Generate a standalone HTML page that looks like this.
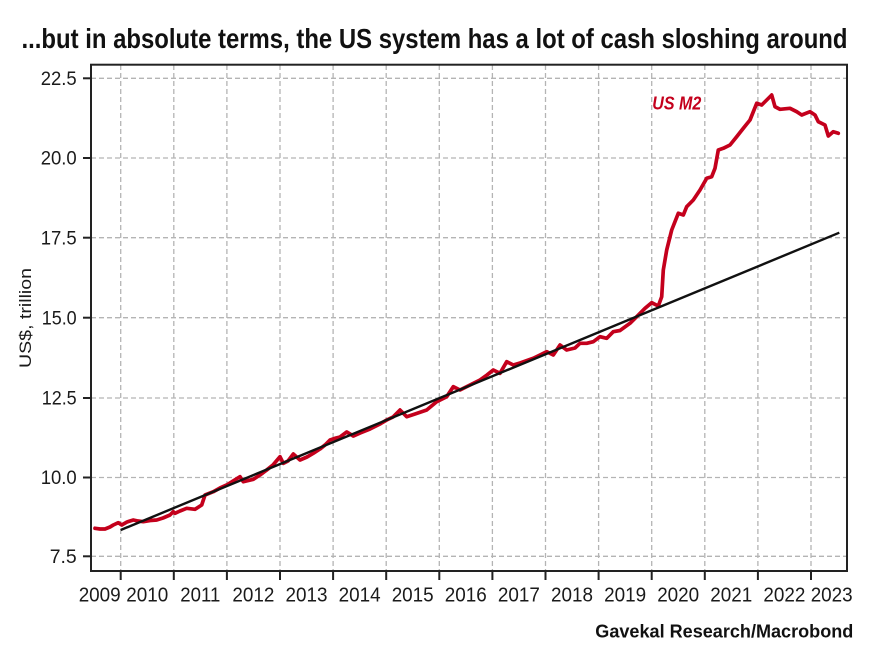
<!DOCTYPE html>
<html><head><meta charset="utf-8"><style>
html,body{margin:0;padding:0;background:#fff;}
svg{display:block;}
text{font-family:"Liberation Sans",sans-serif;}
</style></head><body>
<svg width="886" height="655" viewBox="0 0 886 655" xmlns="http://www.w3.org/2000/svg">
<rect x="0" y="0" width="886" height="655" fill="#fff"/>
<text x="21.5" y="48" font-size="28" font-weight="bold" fill="#111" textLength="826" lengthAdjust="spacingAndGlyphs">...but in absolute terms, the US system has a lot of cash sloshing around</text>

<!-- grid -->
<g stroke="#b4b4b4" stroke-width="1.3" stroke-dasharray="5,3" fill="none">
<line x1="91" y1="78.3" x2="847" y2="78.3"/>
<line x1="91" y1="158" x2="847" y2="158"/>
<line x1="91" y1="237.7" x2="847" y2="237.7"/>
<line x1="91" y1="317.7" x2="847" y2="317.7"/>
<line x1="91" y1="398" x2="847" y2="398"/>
<line x1="91" y1="477.5" x2="847" y2="477.5"/>
<line x1="91" y1="556.3" x2="847" y2="556.3"/>
<line x1="120.7" y1="65" x2="120.7" y2="571"/>
<line x1="173.8" y1="65" x2="173.8" y2="571"/>
<line x1="226.9" y1="65" x2="226.9" y2="571"/>
<line x1="280" y1="65" x2="280" y2="571"/>
<line x1="333.1" y1="65" x2="333.1" y2="571"/>
<line x1="386.2" y1="65" x2="386.2" y2="571"/>
<line x1="439.3" y1="65" x2="439.3" y2="571"/>
<line x1="492.4" y1="65" x2="492.4" y2="571"/>
<line x1="545.5" y1="65" x2="545.5" y2="571"/>
<line x1="598.6" y1="65" x2="598.6" y2="571"/>
<line x1="651.7" y1="65" x2="651.7" y2="571"/>
<line x1="704.8" y1="65" x2="704.8" y2="571"/>
<line x1="757.9" y1="65" x2="757.9" y2="571"/>
<line x1="811" y1="65" x2="811" y2="571"/>
</g>

<!-- US M2 -->
<polyline fill="none" stroke="#c4001c" stroke-width="3.7" stroke-linejoin="round" stroke-linecap="round" points="
95,528.3 100,529 105,529 110,527 113.3,525 118.3,522.7 121.7,525 127,522 133.3,520 138,521 143.3,521.7 150,520.5 156.7,520 163,518 170,515 173.3,511.7 175,513.3 180,511 186.7,508.3 195,509.3 201.7,505 205,495 213.3,491.7 220,488 226.7,485 233,481 240,476.7 243.3,481.7 253.3,479.3 260,475 266.7,470 273,465 280,456.7 283.3,463.3 288,461 293.3,454 300,460 307,457 313.3,453.3 320,449 325,445 330,440 336,438 340,437 346.7,432 353.3,436 360,433 370,429 380,424 386.7,420 393,417 400,410 406.7,416.7 415,414 426.7,410 436.7,401.7 446.7,396.7 453.3,386.7 460,390 470,385 480,380 487,375 493.3,370 500,373.3 506.7,361.7 513.3,365 520,363 533.3,358.3 540,355 546.7,351.7 553.3,355 560,345 566.7,350 575,348 580,343.3 586.7,343.3 593.3,341.7 600,336.7 606.7,338.3 613.3,331.7 620,330.5 630,323.3 636.7,316.7 645,308.3 651.7,302.7 658.3,306 661.7,296.7 663.3,270 666.7,250 671.7,230 678.3,213.3 683.3,215 686.7,206.7 693.3,200 700,190 706.7,178.3 711.7,176.7 715,168.3 718.3,150 723.3,148.3 730,145 736.7,136.7 743.3,128.3 750,120 756.7,103.3 761.7,105 766.7,100 771.7,95 775,106.7 780,109.3 790,108.3 796.7,111.7 801.7,115 810,111.7 815,115 818.3,121.7 825,125 828.3,136 833.3,131.7 838.3,133.3"/>

<!-- trend -->
<line x1="120.7" y1="530" x2="839.3" y2="232.7" stroke="#111" stroke-width="2.4"/>

<!-- frame -->
<rect x="91" y="64.7" width="756" height="506.3" fill="none" stroke="#222" stroke-width="2"/>

<!-- y ticks -->
<g stroke="#222" stroke-width="2">
<line x1="83" y1="78.3" x2="91" y2="78.3"/>
<line x1="83" y1="158" x2="91" y2="158"/>
<line x1="83" y1="237.7" x2="91" y2="237.7"/>
<line x1="83" y1="317.7" x2="91" y2="317.7"/>
<line x1="83" y1="398" x2="91" y2="398"/>
<line x1="83" y1="477.5" x2="91" y2="477.5"/>
<line x1="83" y1="556.3" x2="91" y2="556.3"/>
</g>
<g font-size="19.5" fill="#1a1a1a" text-anchor="end">
<text x="76.7" y="85" textLength="36" lengthAdjust="spacingAndGlyphs">22.5</text>
<text x="76.7" y="164.7" textLength="36" lengthAdjust="spacingAndGlyphs">20.0</text>
<text x="76.7" y="244.4" textLength="36" lengthAdjust="spacingAndGlyphs">17.5</text>
<text x="76.7" y="324.4" textLength="35" lengthAdjust="spacingAndGlyphs">15.0</text>
<text x="76.7" y="404.7" textLength="35" lengthAdjust="spacingAndGlyphs">12.5</text>
<text x="76.7" y="484.2" textLength="36" lengthAdjust="spacingAndGlyphs">10.0</text>
<text x="76.7" y="563" textLength="27" lengthAdjust="spacingAndGlyphs">7.5</text>
</g>

<!-- x ticks -->
<g stroke="#222" stroke-width="2">
<line x1="120.7" y1="571" x2="120.7" y2="580"/>
<line x1="173.8" y1="571" x2="173.8" y2="580"/>
<line x1="226.9" y1="571" x2="226.9" y2="580"/>
<line x1="280" y1="571" x2="280" y2="580"/>
<line x1="333.1" y1="571" x2="333.1" y2="580"/>
<line x1="386.2" y1="571" x2="386.2" y2="580"/>
<line x1="439.3" y1="571" x2="439.3" y2="580"/>
<line x1="492.4" y1="571" x2="492.4" y2="580"/>
<line x1="545.5" y1="571" x2="545.5" y2="580"/>
<line x1="598.6" y1="571" x2="598.6" y2="580"/>
<line x1="651.7" y1="571" x2="651.7" y2="580"/>
<line x1="704.8" y1="571" x2="704.8" y2="580"/>
<line x1="757.9" y1="571" x2="757.9" y2="580"/>
<line x1="811" y1="571" x2="811" y2="580"/>
</g>
<g font-size="20.5" fill="#1a1a1a" text-anchor="middle">
<text x="99.7" y="601.7" textLength="42" lengthAdjust="spacingAndGlyphs">2009</text>
<text x="147.3" y="601.7" textLength="42" lengthAdjust="spacingAndGlyphs">2010</text>
<text x="200.3" y="601.7" textLength="40" lengthAdjust="spacingAndGlyphs">2011</text>
<text x="253.4" y="601.7" textLength="42" lengthAdjust="spacingAndGlyphs">2012</text>
<text x="306.5" y="601.7" textLength="42" lengthAdjust="spacingAndGlyphs">2013</text>
<text x="359.6" y="601.7" textLength="42" lengthAdjust="spacingAndGlyphs">2014</text>
<text x="412.7" y="601.7" textLength="42" lengthAdjust="spacingAndGlyphs">2015</text>
<text x="465.8" y="601.7" textLength="42" lengthAdjust="spacingAndGlyphs">2016</text>
<text x="518.9" y="601.7" textLength="42" lengthAdjust="spacingAndGlyphs">2017</text>
<text x="572" y="601.7" textLength="42" lengthAdjust="spacingAndGlyphs">2018</text>
<text x="625.1" y="601.7" textLength="42" lengthAdjust="spacingAndGlyphs">2019</text>
<text x="678.2" y="601.7" textLength="42" lengthAdjust="spacingAndGlyphs">2020</text>
<text x="731.3" y="601.7" textLength="42" lengthAdjust="spacingAndGlyphs">2021</text>
<text x="784.4" y="601.7" textLength="42" lengthAdjust="spacingAndGlyphs">2022</text>
<text x="831.7" y="601.7" textLength="42" lengthAdjust="spacingAndGlyphs">2023</text>
</g>

<!-- y axis label -->
<text transform="translate(31,318) rotate(-90)" font-size="17" fill="#1a1a1a" text-anchor="middle" textLength="100" lengthAdjust="spacingAndGlyphs">US$, trillion</text>

<!-- series label -->
<text x="652.3" y="109.3" font-size="18" font-weight="bold" font-style="italic" fill="#c4001c" textLength="49" lengthAdjust="spacingAndGlyphs">US M2</text>

<!-- source -->
<text x="853.3" y="637.3" font-size="18" font-weight="bold" fill="#111" text-anchor="end" textLength="258" lengthAdjust="spacingAndGlyphs">Gavekal Research/Macrobond</text>
</svg>
</body></html>
